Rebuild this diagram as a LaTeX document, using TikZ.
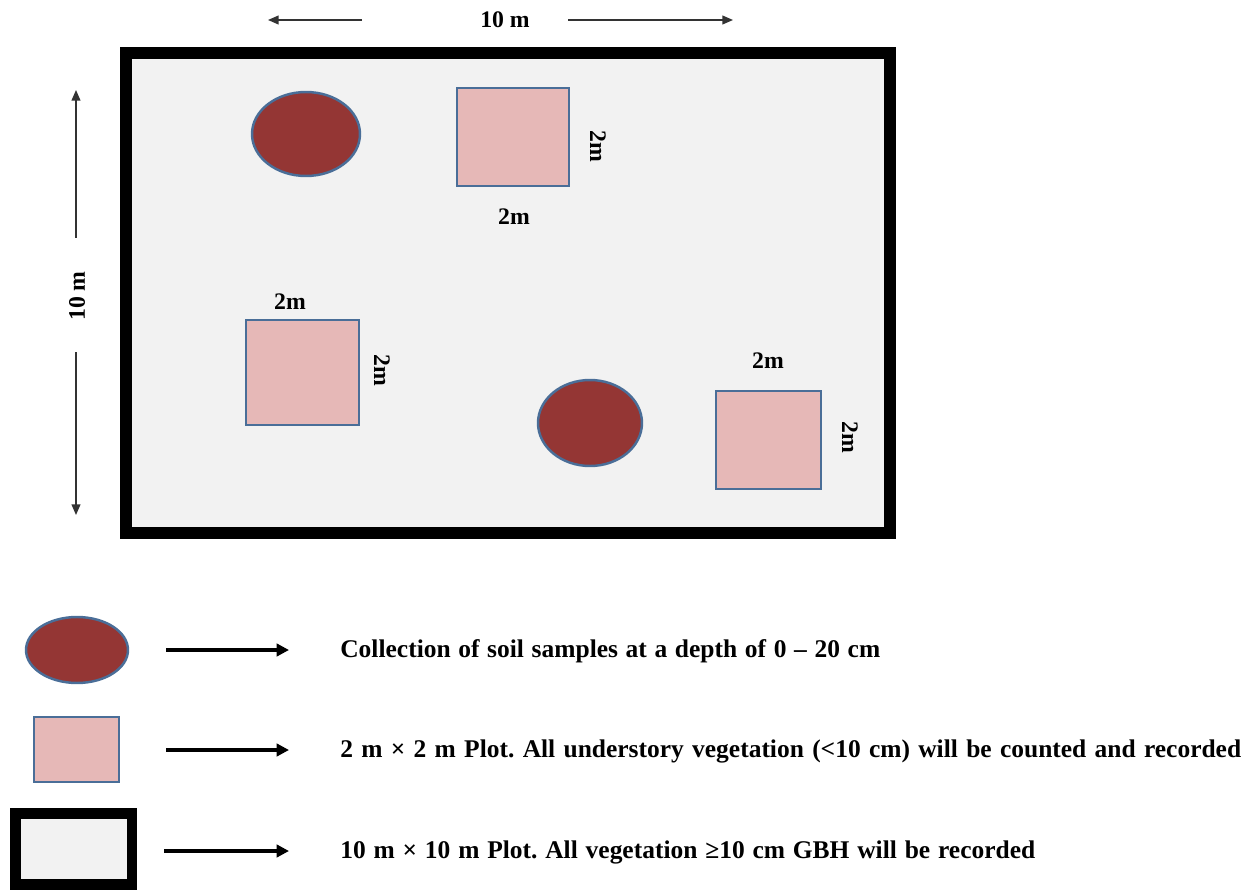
\documentclass[tikz,border=0pt]{standalone}
\usepackage{fontspec}
\setmainfont{Liberation Serif}
\usetikzlibrary{shapes.geometric,arrows.meta}
\definecolor{soilred}{HTML}{943634}
\definecolor{edgeblue}{HTML}{4A6E98}
\definecolor{quadpink}{HTML}{E6B8B7}
\definecolor{plotgrey}{HTML}{F2F2F2}
\tikzset{
	soil/.style={ellipse, draw=edgeblue, fill=soilred, line width=1.4pt, inner sep=0pt},
	quad/.style={rectangle, draw=edgeblue, fill=quadpink, line width=1.2pt, inner sep=0pt},
	bigplot/.style={rectangle, draw=black, fill=plotgrey, inner sep=0pt},
	dimlab/.style={font=\fontsize{13.5}{15}\selectfont\bfseries, inner sep=1pt},
	dimarrow/.style={draw=black!80, line width=0.8pt, -{Triangle[length=6pt,width=5pt]}},
	keyarrow/.style={draw=black, line width=2.3pt, -{Triangle[length=7pt,width=7pt]}},
	keytext/.style={font=\fontsize{14.5}{17}\selectfont\bfseries\frenchspacing, anchor=west, inner sep=0pt}
}
\begin{document}
\begin{tikzpicture}[x=0.02cm, y=-0.02cm]
		\useasboundingbox (0,0) rectangle (1249,892);
		% main plot
		\node[bigplot, line width=6.8pt, minimum width=15.28cm, minimum height=9.6cm] (plot) at (508,293) {};
		\node[soil, minimum width=2.16cm, minimum height=1.68cm] (soilA) at (306,134) {};
		\node[soil, minimum width=2.08cm, minimum height=1.72cm] (soilB) at (590,423) {};
		\node[quad, minimum width=2.24cm, minimum height=1.96cm] (quadA) at (513,137) {};
		\node[quad, minimum width=2.26cm, minimum height=2.1cm] (quadB) at (302.5,372.5) {};
		\node[quad, minimum width=2.1cm, minimum height=1.96cm] (quadC) at (768.5,440) {};
		\node[dimlab, rotate=-90] (quadAr) at (598,146) {2m};
		\node[dimlab] (quadAb) at (514,217) {2m};
		\node[dimlab] (quadBt) at (290,302) {2m};
		\node[dimlab, rotate=-90] (quadBr) at (382,370) {2m};
		\node[dimlab] (quadCt) at (768,361) {2m};
		\node[dimlab, rotate=-90] (quadCr) at (850,437) {2m};
		% dimensions
		\node[dimlab] (widthlab) at (505,20) {10 m};
		\node[dimlab, rotate=90] (heightlab) at (77,296) {10 m};
		\coordinate (wl) at (362,20);
		\coordinate (wlend) at (268,20);
		\coordinate (wr) at (568,20);
		\coordinate (wrend) at (733,20);
		\coordinate (ht) at (76,238);
		\coordinate (htend) at (76,90);
		\coordinate (hb) at (76,352);
		\coordinate (hbend) at (76,515);
		\draw[dimarrow] (wl) -- (wlend);
		\draw[dimarrow] (wr) -- (wrend);
		\draw[dimarrow] (ht) -- (htend);
		\draw[dimarrow] (hb) -- (hbend);
		% legend
		\node[soil, minimum width=2.04cm, minimum height=1.32cm] (keysoil) at (77,650) {};
		\node[quad, minimum width=1.7cm, minimum height=1.3cm] (keyquad) at (76.5,749.5) {};
		\node[bigplot, line width=6.2pt, minimum width=2.33cm, minimum height=1.41cm] (keyplot) at (73.75,849) {};
		\node[keytext] (soiltext) at (340,651) {\makebox[10.8cm][s]{Collection of soil samples at a depth of 0 – 20 cm}};
		\node[keytext] (quadtext) at (340,751) {\makebox[18.02cm][s]{2 m × 2 m Plot. All understory vegetation (<10 cm) will be counted and recorded}};
		\node[keytext] (plottext) at (340,852) {\makebox[13.9cm][s]{10 m × 10 m Plot. All vegetation ≥10 cm GBH will be recorded}};
		\coordinate (soilarr) at (166,650);
		\coordinate (soilend) at (289,650);
		\coordinate (quadarr) at (166,750);
		\coordinate (quadend) at (289,750);
		\coordinate (plotarr) at (164,851);
		\coordinate (plotend) at (289,851);
		\draw[keyarrow] (soilarr) -- (soilend);
		\draw[keyarrow] (quadarr) -- (quadend);
		\draw[keyarrow] (plotarr) -- (plotend);
\end{tikzpicture}
\end{document}
